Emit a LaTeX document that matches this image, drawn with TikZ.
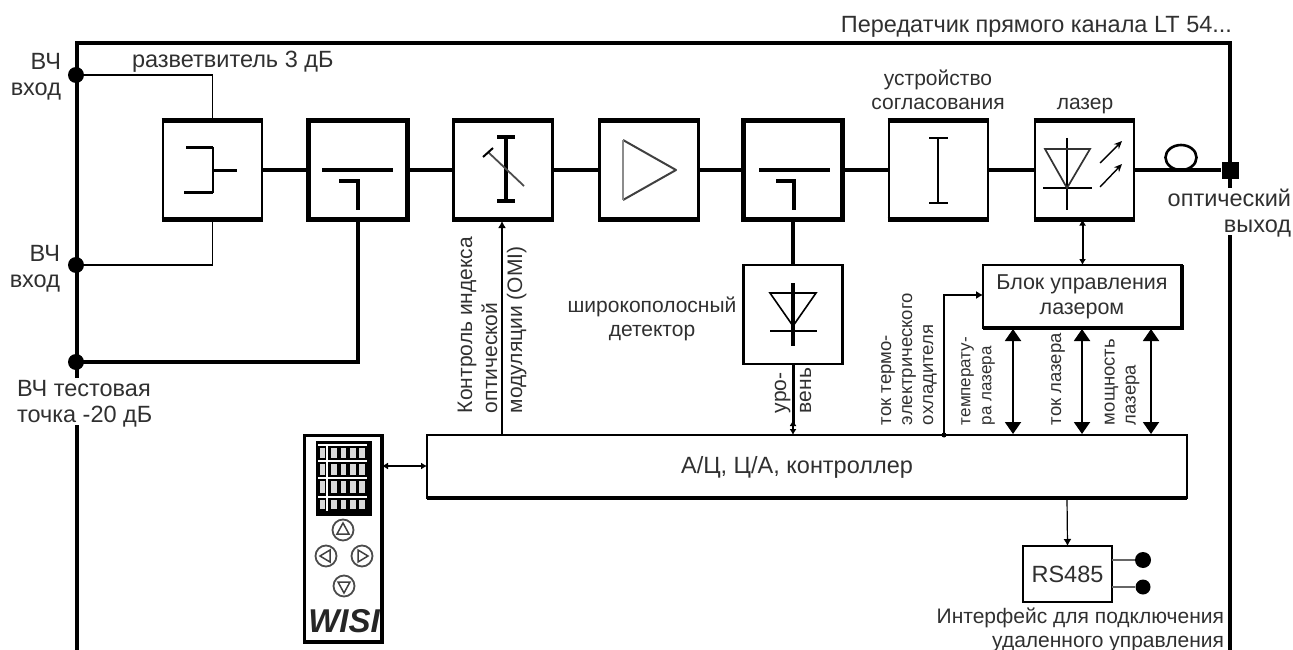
\documentclass[tikz,border=0pt]{standalone}
\usepackage{fontspec}
\setmainfont{Liberation Sans}
\usetikzlibrary{arrows.meta}
\definecolor{ink}{HTML}{303030}
\tikzset{
  blk/.style={draw=black,line width=2.8pt,minimum width=99pt,minimum height=99pt,inner sep=0pt,outer sep=0pt},
  blkb/.style={blk,line width=4.5pt},
  heavy/.style={line width=4.5pt},
  main/.style={line width=3.6pt},
  thinw/.style={line width=1.9pt},
  lbl/.style={text=ink,inner sep=0pt,outer sep=0pt,align=center,font=\fontsize{23.5}{26}\selectfont},
  mlbl/.style={lbl,font=\fontsize{21}{24.5}\selectfont},
  rlbl/.style={lbl,rotate=90,anchor=west,align=left,font=\fontsize{21}{25}\selectfont},
  slbl/.style={lbl,rotate=90,anchor=west,align=left,font=\fontsize{18.5}{21}\selectfont},
  dot/.style={circle,fill=black,inner sep=0pt,minimum size=16pt},
  bigtips/.style={{Triangle[length=12pt,width=16pt]}-{Triangle[length=12pt,width=16pt]},line width=2pt},
  smalltips/.style={{Latex[length=6pt,width=7pt]}-{Latex[length=6pt,width=7pt]},line width=1.2pt},
  onetip/.style={-{Latex[length=7pt,width=8pt]},line width=1.2pt},
}
\begin{document}
\begin{tikzpicture}[x=1pt,y=-1pt]
\useasboundingbox (0,0) rectangle (1293,650);
% outer frame
\coordinate (tl) at (77,43); \coordinate (tr) at (1230,43);
\coordinate (lgap1) at (77,378); \coordinate (lgap2) at (77,425); \coordinate (lend) at (77,650);
\coordinate (rgap1) at (1230,188); \coordinate (rgap2) at (1230,235); \coordinate (rend) at (1230,650);
\draw[line width=3.2pt] (lgap1) -- (tl);
\draw[line width=3.2pt] (lgap2) -- (lend);
\draw[line width=4pt] (75.4,43) -- (tr) -- (rgap1);
\draw[line width=4pt] (rgap2) -- (rend);
% chain
\node[blk]  (b1) at (212.5,170) {};
\node[blkb] (b2) at (358,170) {};
\node[blk]  (b3) at (503,170) {};
\node[blk]  (b4) at (649,170) {};
\node[blkb] (b5) at (793,170) {};
\node[blk]  (b6) at (938.5,170) {};
\node[blk]  (b7) at (1084.5,170) {};
\foreach \b in {b1,b3,b4,b6,b7}
  \draw[heavy] ([xshift=-1.4pt]\b.north west) -- ([xshift=1.4pt]\b.north east)
               ([xshift=-1.4pt]\b.south west) -- ([xshift=1.4pt]\b.south east);
\draw[main] (b1.east) -- (b2.west);
\draw[main] (b2.east) -- (b3.west);
\draw[main] (b3.east) -- (b4.west);
\draw[main] (b4.east) -- (b5.west);
\draw[main] (b5.east) -- (b6.west);
\draw[main] (b6.east) -- (b7.west);
\node[fill=black,minimum size=17pt,inner sep=0pt] (out) at (1230,170) {};
\draw[main] (b7.east) -- (out.west);
\draw[line width=2.6pt] (1181,157.5) ellipse [x radius=15.5,y radius=12.5];
% inputs
\node[dot] (in1) at (76,75) {};
\node[dot] (in2) at (76,265) {};
\node[dot] (in3) at (76,362) {};
\draw[thinw] (in1.center) -| (b1.north);
\draw[thinw] (in2.center) -| (b1.south);
\draw[main]  (in3.center) -| (b2.south);
% symbols
\draw[line width=3pt] (186,148) -- (213,148);
\draw[line width=2.2pt] (213,147) -- (213,193);
\draw[line width=3pt] (213,170) -- (237,170);
\draw[line width=2.2pt] (184,192.5) -- (213,192.5);
\draw[line width=3.6pt] (322,170) -- (393,170);
\draw[line width=3.6pt] (339,181) -- (358,181) -- (358,210);
\draw[line width=3.4pt] (506,136) -- (506,201) (497,137) -- (515,137) (497,201) -- (515,201);
\draw[line width=1.8pt,draw=black!70] (488,152) -- (524,186);
\draw[line width=2pt] (483,157) -- (493,148);
\draw[line width=2pt,draw=black!75,line join=round] (623,140) -- (676,170) -- (623,200);
\draw[line width=2.4pt,draw=black!45] (623,140) -- (623,200);
\draw[line width=3.6pt] (759,170) -- (830,170);
\draw[line width=3.6pt] (776,181) -- (794,181) -- (794,210);
\draw[line width=1.8pt] (938,138) -- (938,203) (929,138) -- (948,138) (929,203) -- (948,203);
\draw[line width=1.6pt] (1067,138) -- (1067,210) (1043,188) -- (1092,188);
\draw[line width=1.7pt,draw=black!80] (1045,149) -- (1090,149) -- (1067,188) -- cycle;
\draw[line width=1.4pt,-{Stealth[length=8pt,width=7pt,open]}] (1100,163) -- (1122,141);
\draw[line width=1.4pt,-{Stealth[length=8pt,width=7pt,open]}] (1100,187) -- (1122,164);
% detector
\node[draw=black,line width=2.6pt,minimum width=99pt,minimum height=99pt,inner sep=0pt,outer sep=0pt] (det) at (793,314.5) {};
\draw[main] (b5.south) -- (det.north);
\draw[line width=3.2pt] (793,283) -- (793,346);
\draw[line width=1.6pt] (770,293) -- (816,293) -- (793,326) -- cycle;
\draw[line width=1.6pt] (770,331) -- (817,331);
% controller, laser block
\node[draw=black,line width=2.6pt,minimum width=760pt,minimum height=63pt,inner sep=0pt,outer sep=0pt] (ctl) at (807,466.5) {};
\draw[line width=3.6pt] (ctl.south west) -- (ctl.south east);
\node[lbl] (ctltxt) at (797,467) {А/Ц, Ц/А, контроллер};
\node[draw=black,line width=2.8pt,minimum width=199pt,minimum height=63pt,inner sep=0pt,outer sep=0pt] (lcb) at (1082.5,296.5) {};
\draw[line width=4pt] (lcb.north east) -- (lcb.south east) -- (lcb.south west);
\node[mlbl,font=\fontsize{21.5}{25}\selectfont] (lcbtxt) at (1082,297) {Блок управления\\лазером};
\draw[smalltips,line width=2pt] (b7.south -| lcb.north) -- (lcb.north);
\draw[onetip,line width=2pt] (502,435) -- (502,221);
\draw[line width=3pt] (det.south) -- (793,425);
\draw[smalltips,line width=2.4pt] (793,420) -- (793,435);
\coordinate (tec) at (944,435);
\draw[onetip,line width=1.1pt] (tec) |- (lcb.west |- 0,295);
\fill (944,435) circle (2.5);
\draw[bigtips] (1013,329) -- (1013,434);
\draw[bigtips] (1082,329) -- (1082,434);
\draw[bigtips] (1151,329) -- (1151,434);
% panel
\node[draw=black,line width=3pt,minimum width=78pt,minimum height=207pt,inner sep=0pt,outer sep=0pt] (pan) at (343,538.5) {};
\draw[line width=4pt] (pan.north east) -- (pan.south east) -- (pan.south west);
\draw[smalltips] (pan.east |- 0,466) -- (ctl.west |- 0,466);
\fill[black] (316,441) rectangle (372,516);
\foreach \yy/\hh in {448/10,464/11,481/12,500/9}
  \foreach \xx in {322.5,334,343.5,353,362}
    \fill[black!15] (\xx-2.8,\yy) rectangle (\xx+2.8,\yy+\hh);
\foreach \yy in {444.5,460.5,478,496.5}
  \draw[white,line width=2pt] (318,\yy) -- (367,\yy);
\draw[white,line width=2pt] (327,444) -- (327,511);
\foreach \nn/\cx/\cy in {u/343/530,l/326/556,r/362/556,d/344/586}
  \draw[line width=1.8pt,draw=black!70] (\cx,\cy) circle (10.5);
\draw[line width=1.5pt,draw=black!75] (337,534) -- (349,534) -- (343,523) -- cycle;
\draw[line width=1.5pt,draw=black!75] (330,550) -- (330,562) -- (320,556) -- cycle;
\draw[line width=1.5pt,draw=black!75] (358,550) -- (358,562) -- (368,556) -- cycle;
\draw[line width=1.5pt,draw=black!75] (338,582) -- (350,582) -- (344,593) -- cycle;
\node[inner sep=0pt,text=black!85] (wisi) at (344,621) {\fontsize{33}{33}\selectfont\bfseries\itshape WISI};
% RS485
\node[draw=black,line width=2.6pt,minimum width=89pt,minimum height=56pt,inner sep=0pt,outer sep=0pt,lbl] (rs) at (1067.5,574) {RS485};
\draw[onetip] (1067,498) -- (rs.north);
\node[dot] (rs1) at (1143,560) {};
\node[dot,minimum size=15pt] (rs2) at (1143,587) {};
\draw[line width=1.6pt,draw=black!60] (rs.east |- rs1) -- (rs1);
\draw[line width=1.6pt,draw=black!60] (rs.east |- rs2) -- (rs2);
% labels
\node[lbl,anchor=east] (t0) at (1232,27) {Передатчик прямого канала LT 54...};
\node[lbl,anchor=west] (t1) at (132,62) {разветвитель 3 дБ};
\node[lbl,align=right,anchor=east] (t2) at (61,77) {ВЧ\\вход};
\node[lbl,align=right,anchor=east] (t3) at (60,269) {ВЧ\\вход};
\node[lbl,align=left,anchor=west] (t4) at (17,403.5) {ВЧ тестовая\\точка -20 дБ};
\node[mlbl] (t5) at (938,90) {устройство\\согласования};
\node[mlbl] (t6) at (1085,106) {лазер};
\node[lbl,align=right,anchor=east] (t7) at (1291,213) {оптический\\выход};
\node[mlbl] (t8) at (652,319) {широкополосный\\детектор};
\node[rlbl] (t9) at (492,413) {Контроль индекса\\оптической\\модуляции (ОМI)};
\node[rlbl] (t10) at (793,413) {уро-\\вень};
\node[slbl] (t11) at (909,425) {ток термо-\\электрического\\охладителя};
\node[slbl,font=\fontsize{17}{21}\selectfont] (t12) at (978,425) {температу-\\ра лазера};
\node[slbl] (t13) at (1058,425) {ток лазера};
\node[slbl] (t14) at (1122,425) {мощность\\лазера};
\node[mlbl,align=right,anchor=east] (t15) at (1224,630) {Интерфейс для подключения\\удаленного управления};
\end{tikzpicture}
\end{document}
